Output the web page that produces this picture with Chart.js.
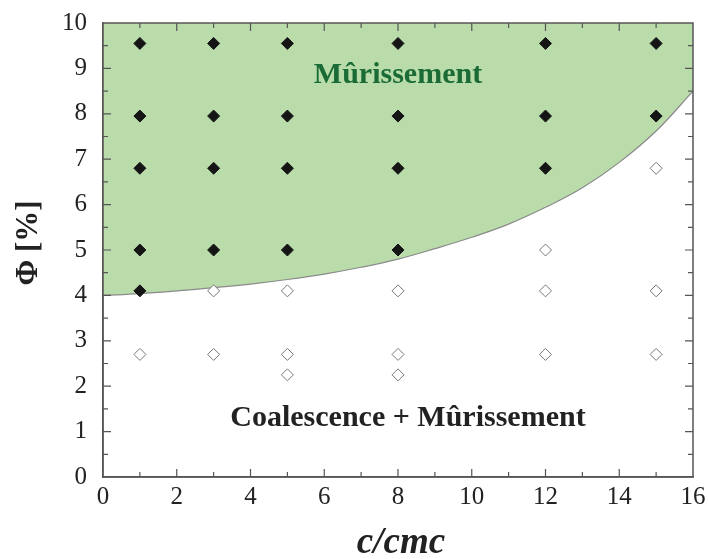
<!DOCTYPE html>
<html>
<head>
<meta charset="utf-8">
<script src="https://cdn.jsdelivr.net/npm/chart.js@4/dist/chart.umd.min.js"></script>
<style>
  html, body { margin: 0; padding: 0; background: #fff; }
</style>
</head>
<body>
<canvas id="chart" width="708" height="559"></canvas>
<script>
// Stable domain (filled diamonds): c/cmc and Phi
const stableX = [1, 1, 1, 1, 1, 3, 3, 3, 3, 5, 5, 5, 5, 8, 8, 8, 8, 12, 12, 12, 15, 15]
const stableY = [9.55, 7.95, 6.8, 5.0, 4.1, 9.55, 7.95, 6.8, 5.0, 9.55, 7.95, 6.8, 5.0, 9.55, 7.95, 6.8, 5.0, 9.55, 7.95, 6.8, 9.55, 7.95]

// Coalescence domain (open diamonds)
const coalX = [1, 3, 3, 5, 5, 5, 8, 8, 8, 12, 12, 12, 15, 15, 15]
const coalY = [2.7, 4.1, 2.7, 4.1, 2.7, 2.25, 4.1, 2.7, 2.25, 5.0, 4.1, 2.7, 6.8, 4.1, 2.7]

// Boundary between the two regions
const boundaryX = [0, 1, 2, 3, 4, 5, 6, 7, 8, 9, 10, 11, 12, 13, 14, 15, 16]
const boundaryY = [4.0, 4.04, 4.1, 4.17, 4.25, 4.35, 4.47, 4.62, 4.8, 5.03, 5.28, 5.57, 5.94, 6.37, 6.93, 7.62, 8.5]

const xTicks = [0, 2, 4, 6, 8, 10, 12, 14, 16]
const yTicks = [0, 1, 2, 3, 4, 5, 6, 7, 8, 9, 10]

const toPoints = (xs, ys) => xs.map((x, i) => ({ x: x, y: ys[i] }))

const serif = "'Liberation Serif', 'Times New Roman', serif"
const axisColor = "#555"

// Frame, inward ticks and text labels
const framePlugin = {
  id: "frame",
  afterDatasetsDraw(chart) {
    const { ctx, chartArea: a, scales } = chart
    const xs = scales.x
    const ys = scales.y
    ctx.save()
    ctx.strokeStyle = axisColor
    ctx.lineWidth = 1.5
    ctx.strokeRect(a.left, a.top, a.right - a.left, a.bottom - a.top)

    ctx.lineWidth = 1.2
    ctx.beginPath()
    for (let v = 1; v < 16; v++) {
      const len = v % 2 === 0 ? 8 : 5
      const px = xs.getPixelForValue(v)
      ctx.moveTo(px, a.bottom)
      ctx.lineTo(px, a.bottom - len)
      ctx.moveTo(px, a.top)
      ctx.lineTo(px, a.top + len)
    }
    for (let v = 0.5; v < 10; v += 0.5) {
      const len = Number.isInteger(v) ? 8 : 5
      const py = ys.getPixelForValue(v)
      ctx.moveTo(a.left, py)
      ctx.lineTo(a.left + len, py)
      ctx.moveTo(a.right, py)
      ctx.lineTo(a.right - len, py)
    }
    ctx.stroke()

    ctx.textAlign = "center"
    ctx.textBaseline = "middle"
    ctx.font = "bold 30px " + serif
    ctx.fillStyle = "#1a6b35"
    ctx.fillText("Mûrissement", xs.getPixelForValue(8.0), ys.getPixelForValue(8.85))
    ctx.fillStyle = "#222"
    ctx.fillText("Coalescence + Mûrissement", xs.getPixelForValue(8.27), ys.getPixelForValue(1.29))

    // axis titles
    ctx.font = "bold italic 37px " + serif
    ctx.fillText("c/cmc", 401, 543)
    ctx.save()
    ctx.translate(29, 243)
    ctx.rotate(-Math.PI / 2)
    ctx.font = "bold 31px " + serif
    ctx.fillText("Φ [%]", 0, 0)
    ctx.restore()
    ctx.restore()
  }
}

new Chart(document.getElementById("chart"), {
  type: "scatter",
  data: {
    datasets: [
      {
        label: "Mûrissement",
        data: toPoints(stableX, stableY),
        pointStyle: "rectRot",
        pointRadius: 6,
        backgroundColor: "#151515",
        borderColor: "#151515",
        borderWidth: 1,
        order: 1
      },
      {
        label: "Coalescence + Mûrissement",
        data: toPoints(coalX, coalY),
        pointStyle: "rectRot",
        pointRadius: 6,
        backgroundColor: "#fff",
        borderColor: "#777",
        borderWidth: 1,
        order: 1
      },
      {
        type: "line",
        label: "limite",
        data: toPoints(boundaryX, boundaryY),
        showLine: true,
        pointRadius: 0,
        borderColor: "#8a8a8a",
        borderWidth: 1.2,
        backgroundColor: "#b9dcaa",
        fill: "end",
        tension: 0.4,
        order: 3
      }
    ]
  },
  options: {
    responsive: false,
    animation: false,
    layout: { padding: { top: 19, right: 15, left: 0, bottom: 0 } },
    plugins: {
      legend: { display: false },
      tooltip: { enabled: false }
    },
    scales: {
      x: {
        type: "linear",
        min: 0,
        max: 16,
        afterBuildTicks: (scale) => { scale.ticks = xTicks.map((v) => ({ value: v })) },
        afterFit: (scale) => { scale.height = 82 },
        grid: { display: false },
        border: { display: true, color: axisColor, width: 1.5 },
        ticks: {
          color: "#222",
          padding: -3,
          font: { family: serif, size: 25 }
        }
      },
      y: {
        type: "linear",
        min: 0,
        max: 10,
        afterBuildTicks: (scale) => { scale.ticks = yTicks.map((v) => ({ value: v })) },
        afterFit: (scale) => { scale.width = 103 },
        grid: { display: false },
        border: { display: true, color: axisColor, width: 1.5 },
        ticks: {
          color: "#222",
          padding: 8,
          font: { family: serif, size: 25 }
        }
      }
    }
  },
  plugins: [framePlugin]
})
</script>
</body>
</html>
